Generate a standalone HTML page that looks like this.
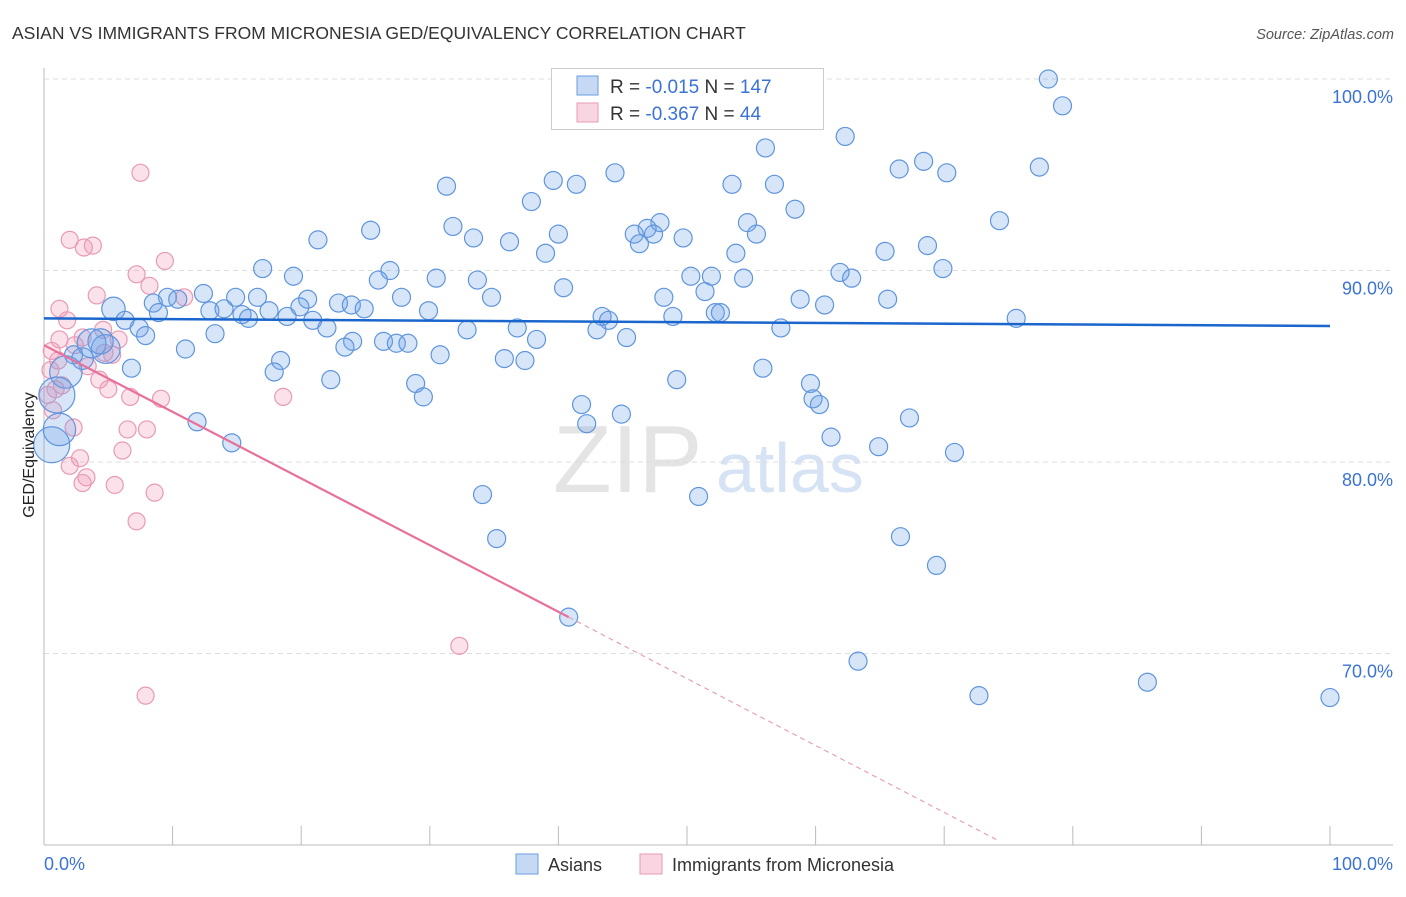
<!DOCTYPE html>
<html><head><meta charset="utf-8"><style>
body{margin:0;background:#fff;font-family:"Liberation Sans",sans-serif;}
svg text{font-family:"Liberation Sans",sans-serif;}
</style></head><body>
<svg id="chart" width="1406" height="892" xmlns="http://www.w3.org/2000/svg">
<text x="12" y="39" font-size="17.5" fill="#333">ASIAN VS IMMIGRANTS FROM MICRONESIA GED/EQUIVALENCY CORRELATION CHART</text>
<text x="1394" y="39" font-size="14.5" fill="#555" font-style="italic" text-anchor="end">Source: ZipAtlas.com</text>
<g><text x="553" y="492" font-size="96" fill="#e4e4e4" font-family="Liberation Serif">ZIP</text><text x="716" y="492" font-size="70" fill="#d5e3f5">atlas</text></g>
<g id="grid"></g>
<g id="axes"></g>
<g id="pts"></g>
<g id="trend"></g>
<text transform="translate(34,455) rotate(-90)" font-size="16" fill="#222" text-anchor="middle">GED/Equivalency</text>
<g>
<rect x="551.5" y="68.5" width="272" height="61" fill="#fff" stroke="#ccc"/>
<rect x="577" y="76" width="21" height="19" fill="rgba(110,160,230,0.4)" stroke="#6a9de0"/>
<rect x="577" y="103" width="21" height="19" fill="rgba(240,150,180,0.4)" stroke="#e89ab5"/>
<text x="610" y="93" font-size="19" fill="#333">R = <tspan fill="#3b72d6">-0.015</tspan>   N = <tspan fill="#3b72d6">147</tspan></text>
<text x="610" y="120" font-size="19" fill="#333">R = <tspan fill="#3b72d6">-0.367</tspan>   N =  <tspan fill="#3b72d6"> 44</tspan></text>
</g>
<g>
<rect x="516" y="854" width="22" height="20" fill="rgba(110,160,230,0.4)" stroke="#6a9de0"/>
<text x="548" y="871" font-size="18" fill="#333">Asians</text>
<rect x="640" y="854" width="22" height="20" fill="rgba(240,150,180,0.4)" stroke="#e89ab5"/>
<text x="672" y="871" font-size="18" fill="#333">Immigrants from Micronesia</text>
</g>
</svg>
<script>
const yTicks=[100,90,80,70];
const yTickLabels=["100.0%","90.0%","80.0%","70.0%"];
const xTickVals=[0,10,20,30,40,50,60,70,80,90,100];
const asianX=[78.1,79.2,62.3,56.1,66.5,68.4,70.2,77.4,44.4,39.6,41.4,31.3,53.5,56.8,37.9,58.4,54.7,74.3,47.9,46.9,45.9,47.4,49.7,55.4,25.4,31.8,21.3,33.4,36.2,40.0,46.3,65.4,68.7,39.0,53.8,17.0,26.9,30.5,26.0,19.4,33.7,50.3,51.9,54.4,61.9,62.8,69.9,40.4,51.4,12.4,27.8,34.8,48.2,65.6,58.8,60.7,9.6,10.4,14.9,16.6,20.5,22.9,23.9,24.9,29.9,5.4,8.5,8.9,12.9,14.0,17.5,18.9,19.9,15.4,15.9,43.4,43.9,48.9,52.2,52.6,75.6,6.3,7.4,7.9,13.3,20.9,22.0,32.9,36.8,43.0,45.3,57.3,38.3,26.4,24.0,23.4,27.4,28.3,11.0,30.8,35.8,37.4,18.4,17.9,4.8,3.7,3.0,2.3,6.8,22.3,28.9,29.5,49.2,55.9,59.6,59.8,60.3,41.8,42.2,44.9,11.9,67.3,14.6,61.2,64.9,70.8,34.1,50.9,35.2,66.6,69.4,40.8,63.3,72.7,85.8,100,1.7,1.0,0.6,1.2,4.4];
const asianY=[100,98.6,97.0,96.4,95.3,95.7,95.1,95.4,95.1,94.7,94.5,94.4,94.5,94.5,93.6,93.2,92.5,92.6,92.5,92.2,91.9,91.9,91.7,91.9,92.1,92.3,91.6,91.7,91.5,91.9,91.4,91.0,91.3,90.9,90.9,90.1,90.0,89.6,89.5,89.7,89.5,89.7,89.7,89.6,89.9,89.6,90.1,89.1,88.9,88.8,88.6,88.6,88.6,88.5,88.5,88.2,88.6,88.5,88.6,88.6,88.5,88.3,88.2,88.0,87.9,88.0,88.3,87.8,87.9,88.0,87.9,87.6,88.1,87.7,87.5,87.6,87.4,87.6,87.8,87.8,87.5,87.4,87.0,86.6,86.7,87.4,87.0,86.9,87.0,86.9,86.5,87.0,86.4,86.3,86.3,86.0,86.2,86.2,85.9,85.6,85.4,85.3,85.3,84.7,85.9,86.2,85.4,85.6,84.9,84.3,84.1,83.4,84.3,84.9,84.1,83.3,83.0,83.0,82.0,82.5,82.1,82.3,81.0,81.3,80.8,80.5,78.3,78.2,76.0,76.1,74.6,71.9,69.6,67.8,68.5,67.7,84.7,83.5,80.9,81.7,86.3];
const asianSize=[];for(let i=0;i<asianX.length;i++)asianSize.push(1);
asianSize[65]=1.3;asianSize[104]=1.6;asianSize[105]=1.6;asianSize[106]=1.2;asianSize[136]=1.8;asianSize[137]=2;asianSize[138]=2;asianSize[139]=1.8;asianSize[140]=1.4;
const micX=[7.5,2.0,3.8,3.1,9.4,7.2,8.2,4.1,1.2,10.9,1.8,0.6,0.5,0.9,4.7,3.0,4.3,5.0,6.7,9.1,18.6,6.5,8.0,2.3,6.1,2.0,2.8,3.3,3.0,5.5,8.6,7.2,32.3,7.9,4.6,5.3,1.2,0.3,0.7,3.4,2.4,1.4,5.8,1.1];
const micY=[95.1,91.6,91.3,91.2,90.5,89.8,89.2,88.7,88.0,88.6,87.4,85.8,84.8,83.8,85.7,86.5,84.3,83.8,83.4,83.3,83.4,81.7,81.7,81.8,80.6,79.8,80.2,79.2,78.9,78.8,78.4,76.9,70.4,67.8,86.9,85.6,86.4,83.5,82.7,85.0,86.1,84.0,86.4,85.3];
const asianTrendX=[0,100], asianTrendY=[87.5,87.1];
const micTrendX=[0,40.8,74.3], micTrendY=[86.1,71.9,60.2];

const X0=44,X1=1330,Y100=79,Y60=845;
const sx=v=>X0+(X1-X0)*v/100;
const sy=v=>Y100+(100-v)*(Y60-Y100)/40;
const NS="http://www.w3.org/2000/svg";
function mk(tag,attrs,parent){const e=document.createElementNS(NS,tag);for(const k in attrs)e.setAttribute(k,attrs[k]);parent.appendChild(e);return e;}
const grid=document.getElementById('grid'),axes=document.getElementById('axes'),pts=document.getElementById('pts'),trend=document.getElementById('trend');
yTicks.forEach((t,i)=>{
 const l=mk('line',{x1:X0,x2:1393,y1:sy(t),y2:sy(t),stroke:'#ddd','stroke-dasharray':'5,4'},grid);
 
 
 const tx=mk('text',{x:1393,y:sy(t)+24,'font-size':18,fill:'#3b72d6','text-anchor':'end'},axes);
 tx.textContent=yTickLabels[i];
 
 
});
const ya=mk('line',{x1:X0,x2:X0,y1:68,y2:Y60,stroke:'#bbb'},axes);


const xa=mk('line',{x1:X0,x2:1393,y1:Y60,y2:Y60,stroke:'#bbb'},axes);


xTickVals.forEach(t=>{
 const l=mk('line',{x1:sx(t),x2:sx(t),y1:Y60,y2:826,stroke:'#bbb'},axes);
 
 
});
const xl0=mk('text',{x:X0,y:870,'font-size':18,fill:'#3b72d6'},axes);xl0.textContent='0.0%';


const xl1=mk('text',{x:1393,y:870,'font-size':18,fill:'#3b72d6','text-anchor':'end'},axes);xl1.textContent='100.0%';



micX.forEach((v,i)=>{
 const c=mk('circle',{cx:sx(v),cy:sy(micY[i]),r:8.5,fill:'rgba(240,150,180,0.28)',stroke:'#e89ab5','stroke-width':1.2},pts);
 
 
});
asianX.forEach((v,i)=>{
 const c=mk('circle',{cx:sx(v),cy:sy(asianY[i]),r:9*asianSize[i],fill:'rgba(110,160,230,0.28)',stroke:'#5f95dd','stroke-width':1.2},pts);
 
 
});
const bl=mk('line',{x1:sx(asianTrendX[0]),y1:sy(asianTrendY[0]),x2:sx(asianTrendX[1]),y2:sy(asianTrendY[1]),stroke:'#1a66cc','stroke-width':2.5},trend);


const pl=mk('line',{x1:sx(micTrendX[0]),y1:sy(micTrendY[0]),x2:sx(micTrendX[1]),y2:sy(micTrendY[1]),stroke:'#e8709a','stroke-width':2.2},trend);


const pd=mk('line',{x1:sx(micTrendX[1]),y1:sy(micTrendY[1]),x2:sx(micTrendX[2]),y2:sy(micTrendY[2]),stroke:'#e8a0b8','stroke-width':1.2,'stroke-dasharray':'5,4'},trend);


</script>
</body></html>
